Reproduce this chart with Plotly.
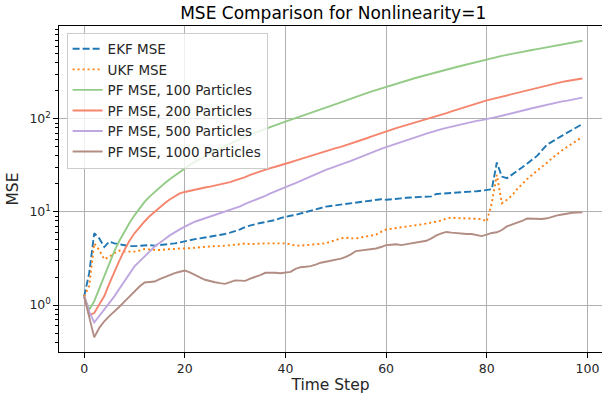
import plotly.graph_objects as go

# Time axis
time_step = list(range(100))

# MSE per time step for each filter
ekf_mse = [
    1.24, 2.2, 5.9, 5.2, 4.2, 4.8, 4.6, 4.5, 4.35, 4.3,
    4.3, 4.35, 4.4, 4.4, 4.35, 4.4, 4.45, 4.5, 4.6, 4.7,
    4.85, 5.0, 5.1, 5.2, 5.3, 5.4, 5.5, 5.65, 5.8, 6.0,
    6.2, 6.5, 6.9, 7.2, 7.4, 7.6, 7.8, 8.0, 8.2, 8.6,
    8.9, 9.1, 9.3, 9.6, 9.9, 10.3, 10.7, 11.1, 11.4, 11.6,
    11.8, 12.0, 12.2, 12.4, 12.6, 12.8, 13.0, 13.3, 13.5, 13.7,
    13.5, 13.6, 13.8, 14.0, 14.2, 14.3, 14.4, 14.5, 14.6, 14.7,
    15.6, 15.7, 15.8, 15.9, 16.0, 16.1, 16.3, 16.5, 16.7, 16.9,
    17.2, 17.5, 34.0, 24.0, 23.0, 25.0, 27.5, 30.0, 33.0, 36.0,
    40.0, 46.0, 53.0, 57.0, 62.0, 66.0, 71.0, 76.0, 82.0, 88.0,
]

ukf_mse = [
    1.24, 1.6, 4.6, 3.9, 3.1, 3.3, 3.6, 3.85, 3.75, 3.75,
    3.75, 3.85, 4.0, 3.95, 3.9, 3.9, 3.95, 4.0, 4.0, 4.05,
    4.05, 4.1, 4.1, 4.15, 4.2, 4.25, 4.3, 4.3, 4.35, 4.4,
    4.4, 4.5, 4.6, 4.5, 4.55, 4.6, 4.6, 4.6, 4.6, 4.6,
    4.6, 4.5, 4.35, 4.35, 4.4, 4.45, 4.5, 4.55, 4.6, 4.8,
    5.0, 5.2, 5.3, 5.2, 5.2, 5.3, 5.4, 5.55, 5.7, 6.1,
    6.5, 6.6, 6.7, 6.8, 7.0, 7.1, 7.2, 7.35, 7.5, 7.65,
    7.8, 8.1, 8.5, 8.7, 8.6, 8.55, 8.5, 8.5, 8.45, 8.4,
    7.9, 12.5, 25.0, 12.4, 13.5, 15.0, 17.5, 20.0, 22.5, 25.0,
    27.5, 30.5, 34.0, 38.0, 42.0, 46.0, 50.0, 54.0, 59.0, 64.0,
]

pf_100 = [
    1.24, 0.89, 1.1, 1.5, 2.0, 2.8, 3.8, 4.9, 6.2, 7.6,
    9.2, 11.0, 12.8, 14.6, 16.4, 18.3, 20.3, 22.5, 24.7, 27.0,
    29.5, 32.0, 34.5, 37.0, 39.8, 42.6, 45.4, 48.3, 51.2, 54.3,
    57.5, 60.8, 64.2, 67.6, 71.0, 74.6, 78.2, 81.8, 85.5, 89.3,
    93.2, 97.2, 101, 106, 111, 116, 121, 126, 132, 138,
    144, 151, 158, 165, 172, 180, 188, 196, 204, 213,
    222, 231, 240, 248, 257, 266, 276, 286, 296, 306,
    316, 327, 338, 349, 360, 372, 384, 396, 410, 424,
    437, 449, 461, 474, 487, 500, 512, 524, 536, 548,
    560, 573, 586, 599, 612, 625, 641, 657, 673, 690,
]

pf_200 = [
    1.24, 0.78, 0.82, 1.0, 1.25, 1.7, 2.3, 3.0, 3.9, 4.9,
    5.9, 6.9, 7.9, 9.0, 10.1, 11.2, 12.4, 13.6, 14.8, 15.8,
    16.4, 16.9, 17.4, 17.9, 18.3, 18.7, 19.2, 19.7, 20.2, 20.9,
    21.8, 22.6, 23.6, 25.0, 26.2, 27.2, 28.4, 29.6, 30.6, 31.6,
    32.8, 34.2, 35.6, 37.0, 38.5, 40.0, 41.8, 43.8, 45.5, 47.0,
    48.5, 50.0, 52.0, 54.0, 56.0, 58.5, 61.5, 64.5, 67.5, 70.5,
    73.5, 76.5, 79.5, 82.5, 85.5, 88.5, 91.5, 94.5, 98.0, 102,
    106, 110, 115, 120, 125, 130, 136, 141, 147, 152,
    158, 163, 168, 174, 180, 186, 192, 198, 204, 210,
    217, 224, 231, 237, 243, 249, 255, 260, 266, 271,
]

pf_500 = [
    1.24, 0.85, 0.65, 0.76, 0.89, 1.05, 1.24, 1.5, 1.79, 2.2,
    2.6, 2.95, 3.3, 3.75, 4.25, 4.7, 5.1, 5.6, 6.1, 6.5,
    6.95, 7.4, 7.85, 8.2, 8.55, 8.9, 9.3, 9.7, 10.1, 10.5,
    10.9, 11.5, 12.2, 12.8, 13.4, 14.1, 14.9, 15.8, 16.7, 17.5,
    18.4, 19.4, 20.4, 21.6, 22.8, 24.2, 25.7, 27.0, 28.3, 29.5,
    30.7, 32.0, 33.5, 35.3, 37.2, 39.2, 41.2, 43.3, 45.5, 47.6,
    49.6, 51.6, 53.6, 56.0, 58.5, 61.0, 63.5, 66.5, 69.5, 72.5,
    75.0, 77.5, 80.0, 82.5, 85.0, 87.5, 90.0, 92.5, 95.0, 97.0,
    99.0, 102, 105, 108, 111, 114, 118, 122, 126, 130,
    134, 138, 142, 146, 150, 154, 157, 161, 165, 169,
]

pf_1000 = [
    1.24, 0.75, 0.45, 0.57, 0.67, 0.76, 0.85, 0.96, 1.09, 1.24,
    1.4, 1.58, 1.75, 1.77, 1.79, 1.9, 2.0, 2.1, 2.2, 2.28,
    2.35, 2.25, 2.1, 1.98, 1.87, 1.8, 1.76, 1.72, 1.69, 1.76,
    1.84, 1.83, 1.82, 1.92, 1.99, 2.1, 2.22, 2.23, 2.22, 2.2,
    2.22, 2.27, 2.45, 2.55, 2.58, 2.62, 2.72, 2.85, 2.92, 2.98,
    3.05, 3.15, 3.3, 3.5, 3.8, 3.85, 3.88, 3.95, 4.05, 4.2,
    4.4, 4.45, 4.5, 4.4, 4.5, 4.6, 4.7, 4.8, 4.9, 5.2,
    5.6, 5.9, 6.1, 6.0, 5.9, 5.85, 5.8, 5.8, 5.7, 5.5,
    5.7, 5.95, 6.05, 6.4, 7.0, 7.3, 7.55, 8.0, 8.5, 8.45,
    8.3, 8.4, 8.55, 8.9, 9.2, 9.4, 9.65, 9.8, 9.85, 9.9,
]

x_ticks = [0, 20, 40, 60, 80, 100]
y_ticks = [1, 10, 100]
y_tick_labels = ["10<sup>0</sup>", "10<sup>1</sup>", "10<sup>2</sup>"]
y_minor = [m * 10 ** e for e in (-1, 0, 1, 2) for m in range(2, 10)]

series = [
    ("EKF MSE", ekf_mse, "#1f77b4", "7px,3px"),
    ("UKF MSE", ukf_mse, "#ff7f0e", "2px,3px"),
    ("PF MSE, 100 Particles", pf_100, "#93cb87", "solid"),
    ("PF MSE, 200 Particles", pf_200, "#f5856d", "solid"),
    ("PF MSE, 500 Particles", pf_500, "#bea6e0", "solid"),
    ("PF MSE, 1000 Particles", pf_1000, "#b28d84", "solid"),
]

fig = go.Figure()
for name, values, color, dash in series:
    fig.add_trace(go.Scatter(
        x=time_step, y=values, mode="lines", name=name,
        line=dict(color=color, width=1.9, dash=dash),
    ))

font_family = "DejaVu Sans"
fig.update_layout(
    width=602, height=394,
    margin=dict(l=59, r=0, t=26, b=42),
    paper_bgcolor="white", plot_bgcolor="white",
    font=dict(family=font_family, color="#262626", size=12.5),
    title=dict(
        text="MSE Comparison for Nonlinearity=1",
        x=0.505, xref="paper", xanchor="center",
        y=1 - 13 / 394, yref="container", yanchor="middle",
        font=dict(size=17, color="black", family=font_family),
    ),
    showlegend=True,
    legend=dict(
        x=0.014, y=0.98, xanchor="left", yanchor="top",
        bgcolor="rgba(255,255,255,0.8)", bordercolor="#cccccc", borderwidth=1,
        font=dict(size=13.5, color="#262626", family=font_family),
        tracegroupgap=0,
    ),
)

fig.update_xaxes(
    range=[-5, 102.9],
    tickvals=x_ticks,
    showgrid=True, gridcolor="#b0b0b0", gridwidth=1,
    zeroline=False,
    showline=True, linecolor="black", linewidth=1.2, mirror=True,
    ticks="outside", ticklen=4.5, tickcolor="black", tickwidth=1,
    tickfont=dict(size=12.5, color="#262626"),
    title=dict(text="Time Step", font=dict(size=15.5, color="#262626"), standoff=4),
)

fig.update_yaxes(
    type="log",
    range=[-0.504, 2.997],
    tickvals=y_ticks, ticktext=y_tick_labels,
    showgrid=True, gridcolor="#b0b0b0", gridwidth=1,
    zeroline=False,
    showline=True, linecolor="black", linewidth=1.2,
    ticks="outside", ticklen=4.5, tickcolor="black", tickwidth=1,
    tickfont=dict(size=12.5, color="#262626"),
    minor=dict(tickvals=y_minor, ticks="outside", ticklen=2.5, tickcolor="black", showgrid=False),
    title=dict(text="MSE", font=dict(size=15.5, color="#262626"), standoff=6),
)

fig.write_html("out.html")
